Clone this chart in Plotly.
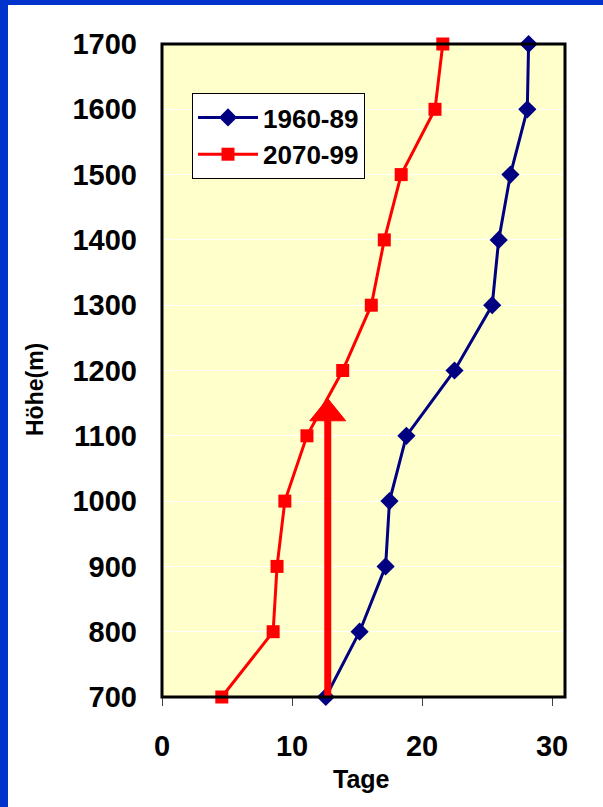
import plotly.graph_objects as go

# Data
heights = [700, 800, 900, 1000, 1100, 1200, 1300, 1400, 1500, 1600, 1700]
days_1960_89 = [12.6, 15.2, 17.2, 17.5, 18.8, 22.5, 25.4, 25.9, 26.8, 28.1, 28.2]
days_2070_99 = [4.6, 8.55, 8.85, 9.45, 11.15, 13.9, 16.1, 17.1, 18.4, 21.0, 21.6]
series_names = ["1960-89", "2070-99"]
x_ticks = [0, 10, 20, 30]
y_ticks = [700, 800, 900, 1000, 1100, 1200, 1300, 1400, 1500, 1600, 1700]

# Arrow annotation (data units)
arrow_x = 12.75
arrow_y0 = 700
arrow_base = 1123
arrow_tip = 1157
arrow_half = 1.38

W, H = 603, 807
L, R, T, B = 162, 38, 44, 110
pw, ph = W - L - R, H - T - B

def px_x(px):
    return (px - L) / pw

def px_y(py):
    return (H - B - py) / ph

FONT = "Liberation Sans, Arial, sans-serif"

fig = go.Figure()
fig.add_trace(go.Scatter(
    x=days_1960_89, y=heights, name=f"<b>{series_names[0]}</b>", mode="lines+markers",
    line=dict(color="#000080", width=3),
    marker=dict(symbol="diamond", size=14, color="#000080"),
    cliponaxis=False,
))
fig.add_trace(go.Scatter(
    x=days_2070_99, y=heights, name=f"<b>{series_names[1]}</b>", mode="lines+markers",
    line=dict(color="#FF0000", width=3),
    marker=dict(symbol="square", size=13, color="#FF0000"),
    cliponaxis=False,
))

shapes = [
    dict(type="line", xref="x", yref="y", x0=arrow_x, x1=arrow_x, y0=arrow_y0, y1=arrow_base + 5,
         line=dict(color="#FF0000", width=7), layer="above"),
    dict(type="path", xref="x", yref="y",
         path=f"M {arrow_x - arrow_half},{arrow_base} L {arrow_x + arrow_half},{arrow_base} L {arrow_x},{arrow_tip} Z",
         fillcolor="#FF0000", line=dict(color="#FF0000", width=1), layer="above"),
    dict(type="rect", xref="paper", yref="paper", x0=px_x(0), x1=px_x(W), y0=px_y(5), y1=px_y(0),
         fillcolor="#0033CC", line=dict(width=0), layer="above"),
    dict(type="rect", xref="paper", yref="paper", x0=px_x(0), x1=px_x(8), y0=px_y(H), y1=px_y(0),
         fillcolor="#0033CC", line=dict(width=0), layer="above"),
    dict(type="rect", xref="paper", yref="paper", x0=0, x1=1, y0=0, y1=1,
         line=dict(color="black", width=3), layer="above"),
]

annotations = [
    dict(text="<b>Höhe(m)</b>", xref="paper", yref="paper", x=px_x(35), y=px_y(390),
         textangle=-90, showarrow=False, font=dict(family=FONT, size=23, color="black"),
         xanchor="center", yanchor="middle"),
    dict(text="<b>Tage</b>", xref="paper", yref="paper", x=px_x(361), y=px_y(779),
         showarrow=False, font=dict(family=FONT, size=25, color="black"),
         xanchor="center", yanchor="middle"),
]

fig.update_layout(
    width=W, height=H,
    margin=dict(l=L, r=R, t=T, b=B),
    paper_bgcolor="white",
    plot_bgcolor="#FFFFCC",
    shapes=shapes,
    annotations=annotations,
    showlegend=True,
    legend=dict(
        x=px_x(192), y=px_y(93), xanchor="left", yanchor="top",
        bgcolor="white", bordercolor="black", borderwidth=1,
        font=dict(family=FONT, size=26, color="black"),
        itemwidth=60,
        tracegroupgap=0,
    ),
    xaxis=dict(
        range=[0, 31], tickvals=x_ticks, ticktext=[f"<b>{v}</b>" for v in x_ticks],
        ticks="outside", ticklen=8, tickwidth=1, tickcolor="#444",
        showgrid=False, zeroline=False, showline=False,
        tickfont=dict(family=FONT, size=29, color="black"),
        ticklabelstandoff=15,
    ),
    yaxis=dict(
        range=[700, 1700], tickvals=y_ticks, ticktext=[f"<b>{v}</b>" for v in y_ticks],
        ticks="", showgrid=True, gridcolor="white", gridwidth=1,
        zeroline=False, showline=False,
        tickfont=dict(family=FONT, size=29, color="black"),
        ticklabelstandoff=24,
    ),
)

fig.write_html(
    "out.html",
    config={"displayModeBar": False},
    post_script="document.body.style.margin='0';document.body.style.padding='0';document.body.style.overflow='hidden';",
)
